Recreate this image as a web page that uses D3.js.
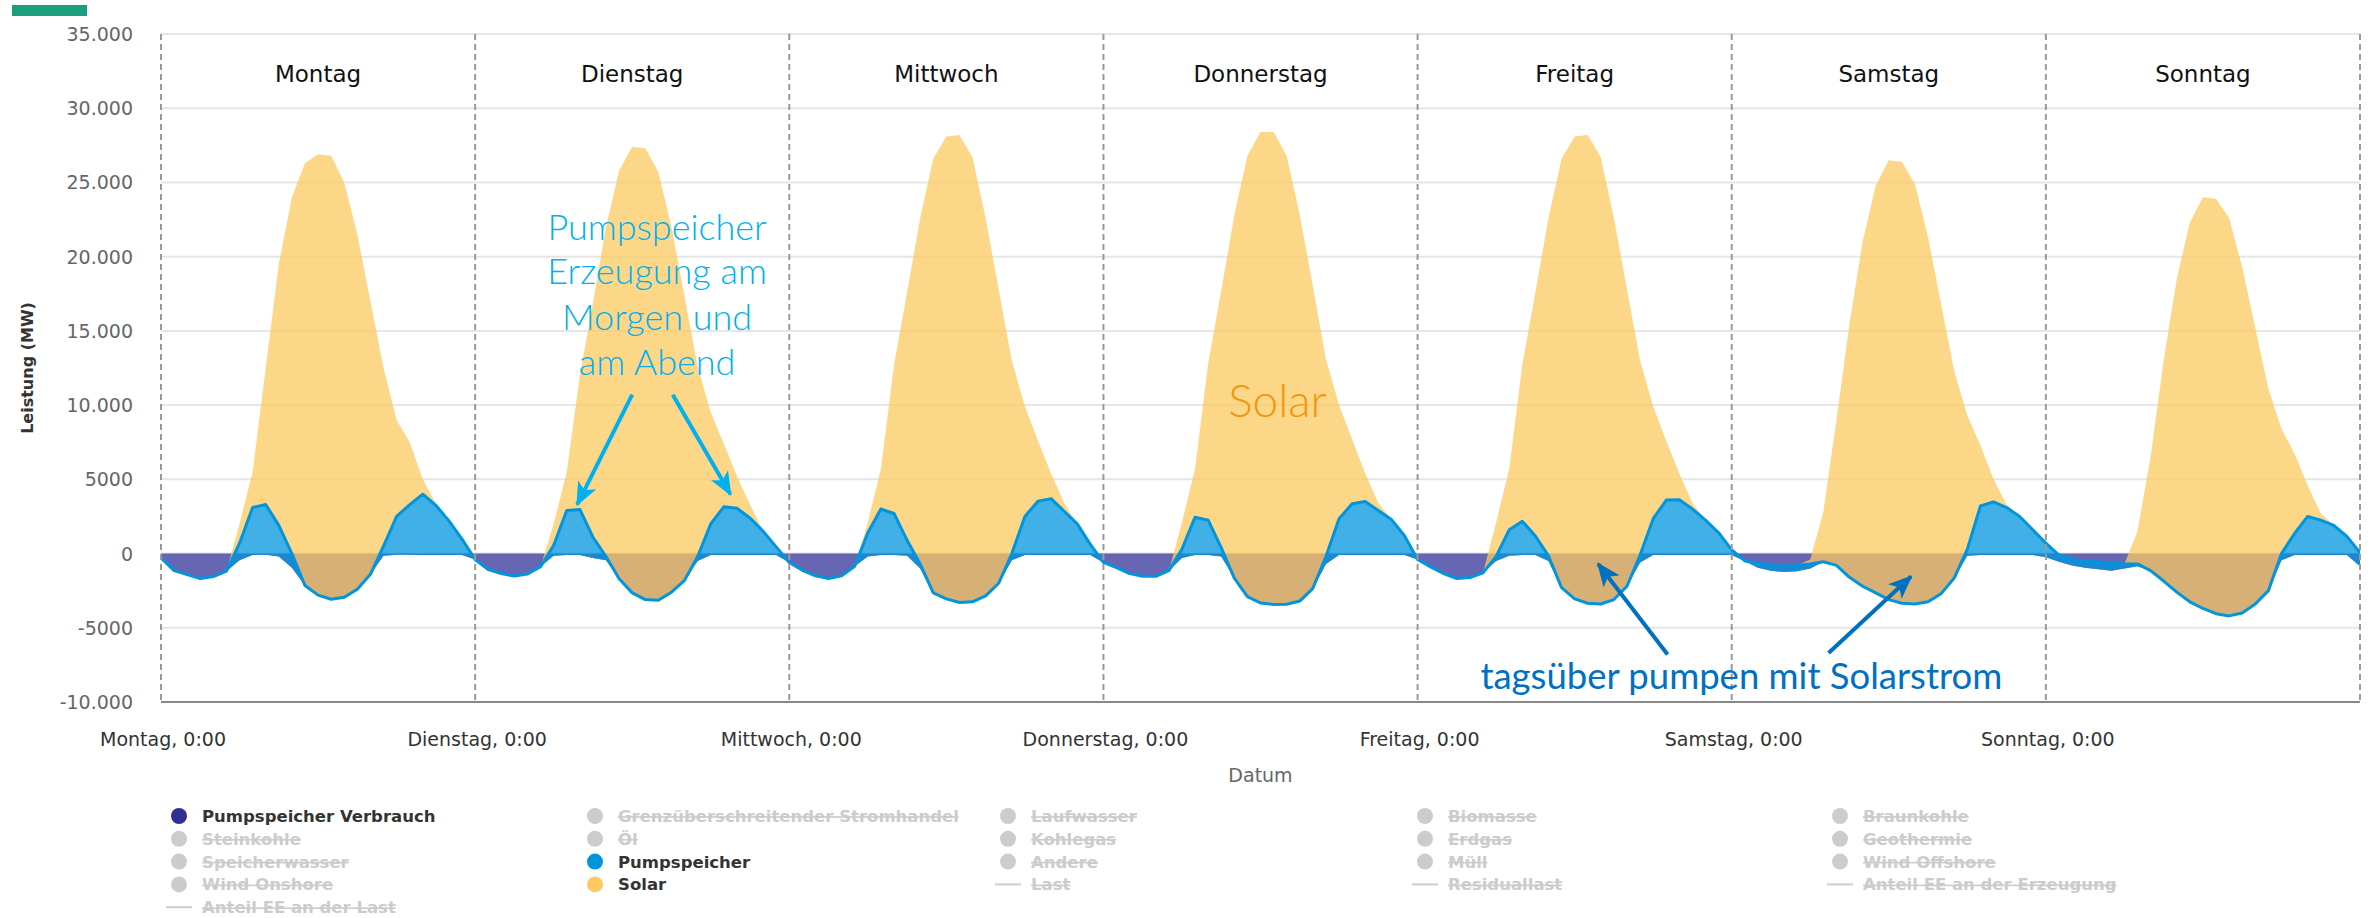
<!DOCTYPE html>
<html lang="de">
<head>
<meta charset="utf-8">
<script src="https://cdn.jsdelivr.net/npm/d3@7"></script>
<style>
  html, body { margin: 0; padding: 0; background: #fff; }
  svg { display: block; }
  text { font-family: "DejaVu Sans", sans-serif; }
</style>
</head>
<body>
<svg id="chart"></svg>
<script>
// Layout
const W = 2374, H = 918;
const plot = { left: 161, right: 2360, top: 34, bottom: 702 };

// Categories / ticks
const dayNames = ["Montag", "Dienstag", "Mittwoch", "Donnerstag", "Freitag", "Samstag", "Sonntag"];
const yTicks = [-10000, -5000, 0, 5000, 10000, 15000, 20000, 25000, 30000, 35000];
const yTickLabels = ["-10.000", "-5000", "0", "5000", "10.000", "15.000", "20.000", "25.000", "30.000", "35.000"];

// Hourly values in MW, Monday 0:00 .. next Monday 0:00 (stacked in this order)
const pumpVerbrauch = [
  -300, -1150, -1420, -1690, -1550, -1190, -450, -100, -80, -200, -950, -2150, -2800, -3080, -2950, -2400, -1400, -150, -80, -80, -100, -100, -100, -100,
  -400, -1075, -1350, -1520, -1380, -880, -150, -100, -100, -300, -450, -1700, -2650, -3100, -3150, -2600, -1800, -500, -100, -100, -100, -100, -100, -100,
  -600, -1130, -1500, -1680, -1500, -850, -200, -100, -100, -150, -1000, -2650, -3050, -3300, -3250, -2850, -2000, -450, -100, -100, -100, -100, -100, -100,
  -600, -950, -1350, -1530, -1530, -1150, -300, -100, -100, -200, -1650, -2900, -3330, -3430, -3420, -3200, -2350, -700, -100, -100, -100, -100, -100, -100,
  -400, -900, -1350, -1680, -1620, -1300, -500, -150, -100, -100, -500, -2300, -3050, -3350, -3400, -3100, -2200, -600, -100, -100, -100, -100, -100, -100,
  -100, -500, -950, -1150, -1250, -1200, -1000, -550, -800, -1600, -2200, -2650, -3100, -3350, -3400, -3250, -2700, -1650, -150, -100, -100, -100, -100, -100,
  -250, -550, -800, -950, -1050, -1150, -1000, -850, -1150, -1850, -2600, -3250, -3700, -4050, -4200, -4000, -3400, -2500, -450, -100, -100, -100, -100, -100,
  -850
];
const pumpspeicher = [
  0, 0, 0, 0, 0, 0, 1150, 3200, 3380, 2100, 950, 0, 0, 0, 0, 0, 0, 650, 2580, 3380, 4100, 3350, 2300, 1070,
  0, 0, 0, 0, 0, 0, 710, 3000, 3070, 1400, 250, 0, 0, 0, 0, 0, 0, 300, 2100, 3250, 3150, 2500, 1600, 550,
  0, 0, 0, 0, 0, 0, 1600, 3100, 2800, 1050, 300, 0, 0, 0, 0, 0, 0, 450, 2600, 3630, 3800, 2950, 2100, 720,
  0, 0, 0, 0, 0, 0, 600, 2550, 2350, 600, 0, 0, 0, 0, 0, 0, 0, 500, 2450, 3450, 3600, 3000, 2400, 1300,
  0, 0, 0, 0, 0, 0, 300, 1750, 2280, 1280, 350, 0, 0, 0, 0, 0, 0, 500, 2450, 3700, 3720, 3100, 2350, 1500,
  350, 0, 300, 350, 400, 400, 300, 0, 0, 0, 0, 0, 0, 0, 0, 0, 0, 0, 450, 3300, 3580, 3200, 2600, 1700,
  950, 450, 400, 450, 500, 500, 300, 150, 0, 0, 0, 0, 0, 0, 0, 0, 0, 0, 450, 1450, 2600, 2350, 2000, 1250,
  920
];
const solar = [
  0, 0, 0, 0, 0, 0, 1300, 2400, 9200, 17600, 24000, 28450, 29700, 29880, 27950, 23900, 18400, 12000, 6500, 4200, 1000, 100, 0, 0,
  0, 0, 0, 0, 0, 0, 1440, 2600, 9030, 15800, 22200, 27500, 30050, 30400, 28850, 24600, 19100, 12800, 7500, 4250, 2150, 900, 0, 0,
  0, 0, 0, 0, 0, 0, 700, 2700, 10000, 16700, 23300, 29250, 31150, 31500, 29950, 25450, 19800, 13000, 7400, 4070, 1700, 550, 0, 0,
  0, 0, 0, 0, 0, 0, 1800, 3250, 10550, 17300, 24450, 29700, 31730, 31830, 30220, 26000, 20350, 13300, 7650, 4350, 1900, 500, 0, 0,
  0, 0, 0, 0, 0, 0, 2300, 4100, 10520, 16420, 22750, 28900, 31150, 31550, 30100, 25700, 20000, 13100, 7550, 4000, 1780, 400, 0, 0,
  0, 0, 0, 0, 0, 0, 300, 3350, 9800, 17100, 23200, 27450, 29600, 29750, 28300, 24550, 19500, 13950, 9000, 4100, 1520, 200, 0, 0,
  0, 0, 0, 0, 0, 0, 0, 2200, 7650, 14850, 21100, 25550, 27700, 27950, 26800, 23300, 18600, 13600, 8400, 5350, 2100, 450, 0, 0,
  0
];

// Legend entries (row by row, 5 per row)
const legendNames = [
  "Pumpspeicher Verbrauch", "Grenzüberschreitender Stromhandel", "Laufwasser", "Biomasse", "Braunkohle",
  "Steinkohle", "Öl", "Kohlegas", "Erdgas", "Geothermie",
  "Speicherwasser", "Pumpspeicher", "Andere", "Müll", "Wind Offshore",
  "Wind Onshore", "Solar", "Last", "Residuallast", "Anteil EE an der Erzeugung",
  "Anteil EE an der Last"
];
const lineSeries = ["Last", "Residuallast", "Anteil EE an der Erzeugung", "Anteil EE an der Last"];

const seriesColor = {
  "Pumpspeicher Verbrauch": "#333399",
  "Pumpspeicher": "#0095dd",
  "Solar": "#fcca60"
};

// Scales & SVG
const svg = d3.select("#chart").attr("width", W).attr("height", H);

const x = d3.scaleLinear().domain([0, 168]).range([plot.left, plot.right]);
const y = d3.scaleLinear().domain([-10000, 35000]).range([plot.bottom, plot.top]);

// top-left green bar
svg.append("rect").attr("x", 12).attr("y", 5).attr("width", 75).attr("height", 11).attr("fill", "#1b9e7d");

// horizontal grid
svg.append("g").selectAll("line")
  .data(yTicks).enter().append("line")
    .attr("x1", plot.left).attr("x2", plot.right)
    .attr("y1", d => y(d)).attr("y2", d => y(d))
    .attr("stroke", "#e6e6e6").attr("stroke-width", 2);

// y labels
svg.append("g").selectAll("text")
  .data(yTicks).enter().append("text")
    .attr("x", 133).attr("y", d => y(d) + 7)
    .attr("text-anchor", "end")
    .style("font-size", "19px").attr("fill", "#666")
    .text((d, i) => yTickLabels[i]);

svg.append("text")
  .attr("transform", `translate(33,${(plot.top + plot.bottom) / 2}) rotate(-90)`)
  .attr("text-anchor", "middle")
  .style("font-size", "16px").style("font-weight", "bold").attr("fill", "#333")
  .text("Leistung (MW)");

// stacked areas
const rows = d3.range(169).map(h => ({
  h, verbrauch: pumpVerbrauch[h], pump: pumpspeicher[h], solar: solar[h]
}));
const stack = d3.stack().keys(["verbrauch", "pump", "solar"]).offset(d3.stackOffsetNone);
const stacked = stack(rows);
const fills = [seriesColor["Pumpspeicher Verbrauch"], seriesColor["Pumpspeicher"], seriesColor["Solar"]];

svg.append("clipPath").attr("id", "clip")
  .append("rect").attr("x", plot.left).attr("y", plot.top)
  .attr("width", plot.right - plot.left).attr("height", plot.bottom - plot.top);

const area = d3.area()
  .x(d => x(d.data.h))
  .y0(d => y(d[0]))
  .y1(d => y(d[1]));

const areas = svg.append("g").attr("clip-path", "url(#clip)");
areas.selectAll("path.area")
  .data(stacked).enter().append("path")
    .attr("class", "area")
    .attr("d", area)
    .attr("fill", (d, i) => fills[i])
    .attr("fill-opacity", 0.75);

// pumpspeicher series line
areas.append("path")
  .datum(stacked[1])
  .attr("d", d3.line().x(d => x(d.data.h)).y(d => y(d[1])))
  .attr("fill", "none")
  .attr("stroke", seriesColor["Pumpspeicher"])
  .attr("stroke-width", 3)
  .attr("stroke-linejoin", "round");

// day separators
svg.append("g").selectAll("line")
  .data(d3.range(8)).enter().append("line")
    .attr("x1", d => x(d * 24)).attr("x2", d => x(d * 24))
    .attr("y1", plot.top).attr("y2", plot.bottom)
    .attr("stroke", "#999").attr("stroke-width", 2)
    .attr("stroke-dasharray", "6,4");

// x axis line
svg.append("line")
  .attr("x1", plot.left).attr("x2", plot.right)
  .attr("y1", plot.bottom).attr("y2", plot.bottom)
  .attr("stroke", "#888").attr("stroke-width", 2);

// day headings
svg.append("g").selectAll("text")
  .data(dayNames).enter().append("text")
    .attr("x", (d, i) => x(i * 24 + 12)).attr("y", 82)
    .attr("text-anchor", "middle")
    .style("font-size", "23px").attr("fill", "#111")
    .text(d => d);

// x labels
svg.append("g").selectAll("text")
  .data(dayNames).enter().append("text")
    .attr("x", (d, i) => x(i * 24) + 2).attr("y", 746)
    .attr("text-anchor", "middle")
    .style("font-size", "19px").attr("fill", "#333")
    .text(d => d + ", 0:00");

svg.append("text")
  .attr("x", (plot.left + plot.right) / 2).attr("y", 782)
  .attr("text-anchor", "middle")
  .style("font-size", "19px").attr("fill", "#666")
  .text("Datum");

// annotations
const defs = svg.append("defs");
function marker(id, color) {
  defs.append("marker")
    .attr("id", id).attr("markerUnits", "userSpaceOnUse")
    .attr("markerWidth", 24).attr("markerHeight", 20)
    .attr("refX", 22).attr("refY", 10).attr("orient", "auto")
    .append("path").attr("d", "M0,0 L24,10 L0,20 L6,10 Z").attr("fill", color);
}
marker("headCyan", "#00b0f0");
marker("headBlue", "#0070c0");

const arrows = [
  { from: [36.0, 10700], to: [31.8, 3300], head: "headCyan", color: "#00b0f0" },
  { from: [39.1, 10700], to: [43.5, 4000], head: "headCyan", color: "#00b0f0" },
  { from: [115.1, -6800], to: [109.8, -700], head: "headBlue", color: "#0070c0" },
  { from: [127.4, -6700], to: [133.7, -1550], head: "headBlue", color: "#0070c0" }
];
svg.append("g").selectAll("line")
  .data(arrows).enter().append("line")
    .attr("x1", d => x(d.from[0])).attr("y1", d => y(d.from[1]))
    .attr("x2", d => x(d.to[0])).attr("y2", d => y(d.to[1]))
    .attr("stroke", d => d.color).attr("stroke-width", 4)
    .attr("marker-end", d => `url(#${d.head})`);

const noteLines = ["Pumpspeicher", "Erzeugung am", "Morgen und", "am Abend"];
const noteBaselines = [21100, 18130, 15030, 12060];
svg.append("g").selectAll("text")
  .data(noteLines).enter().append("text")
    .attr("x", x(37.9)).attr("y", (d, i) => y(noteBaselines[i]))
    .attr("text-anchor", "middle")
    .style("font-family", "Lato, sans-serif").style("font-weight", 300)
    .style("font-size", "36px").attr("fill", "#00b0f0")
    .text(d => d);

svg.append("text")
  .attr("x", x(85.3)).attr("y", y(9230))
  .attr("text-anchor", "middle")
  .style("font-family", "Lato, sans-serif").style("font-weight", 300)
  .style("font-size", "46px").attr("fill", "#f0960f")
  .text("Solar");

svg.append("text")
  .attr("x", x(100.8)).attr("y", y(-9100))
  .style("font-family", "Lato, sans-serif").style("font-weight", 400)
  .style("font-size", "36.5px").attr("fill", "#0070c0")
  .text("tagsüber pumpen mit Solarstrom");

// legend
const legendX = [179, 595, 1008, 1425, 1840];
const legendY0 = 816, legendDY = 22.8;
const legend = svg.append("g").selectAll("g")
  .data(legendNames).enter().append("g")
    .attr("transform", (d, i) => `translate(${legendX[i % 5]},${legendY0 + Math.floor(i / 5) * legendDY})`);

legend.filter(d => !lineSeries.includes(d)).append("circle")
  .attr("r", 8)
  .attr("fill", d => seriesColor[d] ? (d === "Pumpspeicher Verbrauch" ? "#2e3192" : seriesColor[d]) : "#ccc");
legend.filter(d => lineSeries.includes(d)).append("line")
  .attr("x1", -13).attr("x2", 13)
  .attr("stroke", "#ccc").attr("stroke-width", 2);
legend.append("text")
  .attr("x", 23).attr("y", 6)
  .style("font-size", "16.5px").style("font-weight", "bold")
  .attr("fill", d => seriesColor[d] ? "#333" : "#ccc")
  .style("text-decoration", d => seriesColor[d] ? "none" : "line-through")
  .text(d => d);
</script>
</body>
</html>
